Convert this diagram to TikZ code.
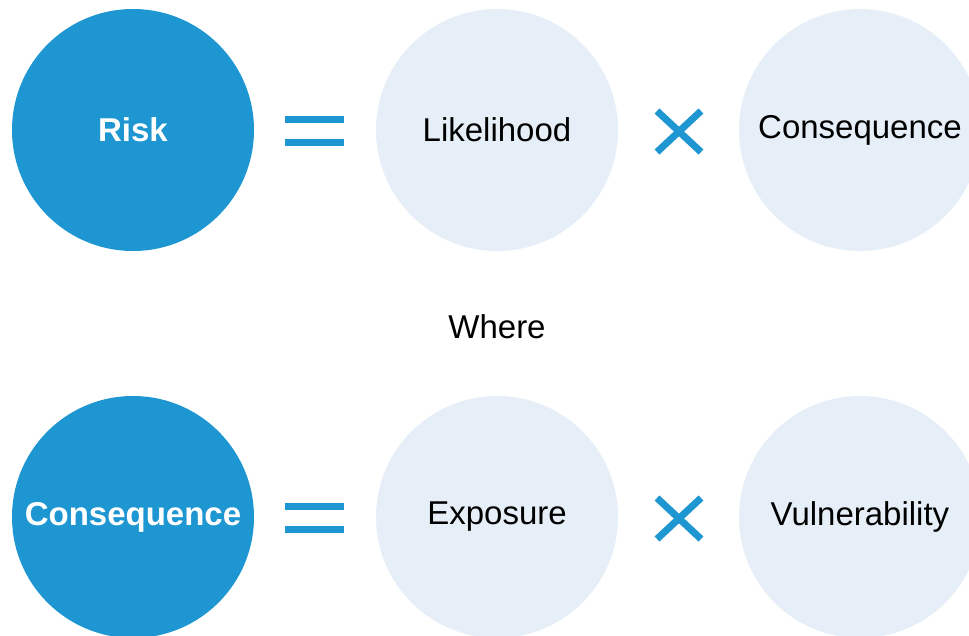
\documentclass[tikz,border=0pt]{standalone}
\usepackage{fontspec}
\setmainfont{Liberation Sans}
\definecolor{darkb}{HTML}{1E96D1}
\definecolor{lightb}{HTML}{E6EFF7}
\tikzset{
  main/.style={circle, fill=darkb, minimum size=242pt, inner sep=0pt, text=white, font=\fontsize{33}{38}\selectfont\bfseries},
  factor/.style={circle, fill=lightb, minimum size=242pt, inner sep=0pt, text=black, font=\fontsize{33}{38}\selectfont},
  sym/.style={draw=darkb, line width=7pt},
  lbl/.style={font=\fontsize{33}{38}\selectfont, text=black}
}
\begin{document}
\begin{tikzpicture}[x=1pt,y=-1pt]
\clip (0,0) rectangle (969,635);
\useasboundingbox (0,0) rectangle (969,635);
\node[main] (risk) at (133,130) {Risk};
\node[factor] (like) at (497,130) {Likelihood};
\node[factor] (cons1) at (860,130) {Consequence};
\node[main] (cons2) at (133,517) {Consequence};
\node[factor] (expo) at (497,517) {Exposure};
\node[factor] (vuln) at (860,517) {Vulnerability};
\node[lbl] (where) at (497,327) {Where};
\foreach \yy in {131,518}{
  \draw[sym] (285,\yy-11.5) -- (344,\yy-11.5);
  \draw[sym] (285,\yy+11.5) -- (344,\yy+11.5);
  \draw[sym] (657,\yy-20) -- (701,\yy+21);
  \draw[sym] (701,\yy-20) -- (657,\yy+21);
}
\end{tikzpicture}
\end{document}
